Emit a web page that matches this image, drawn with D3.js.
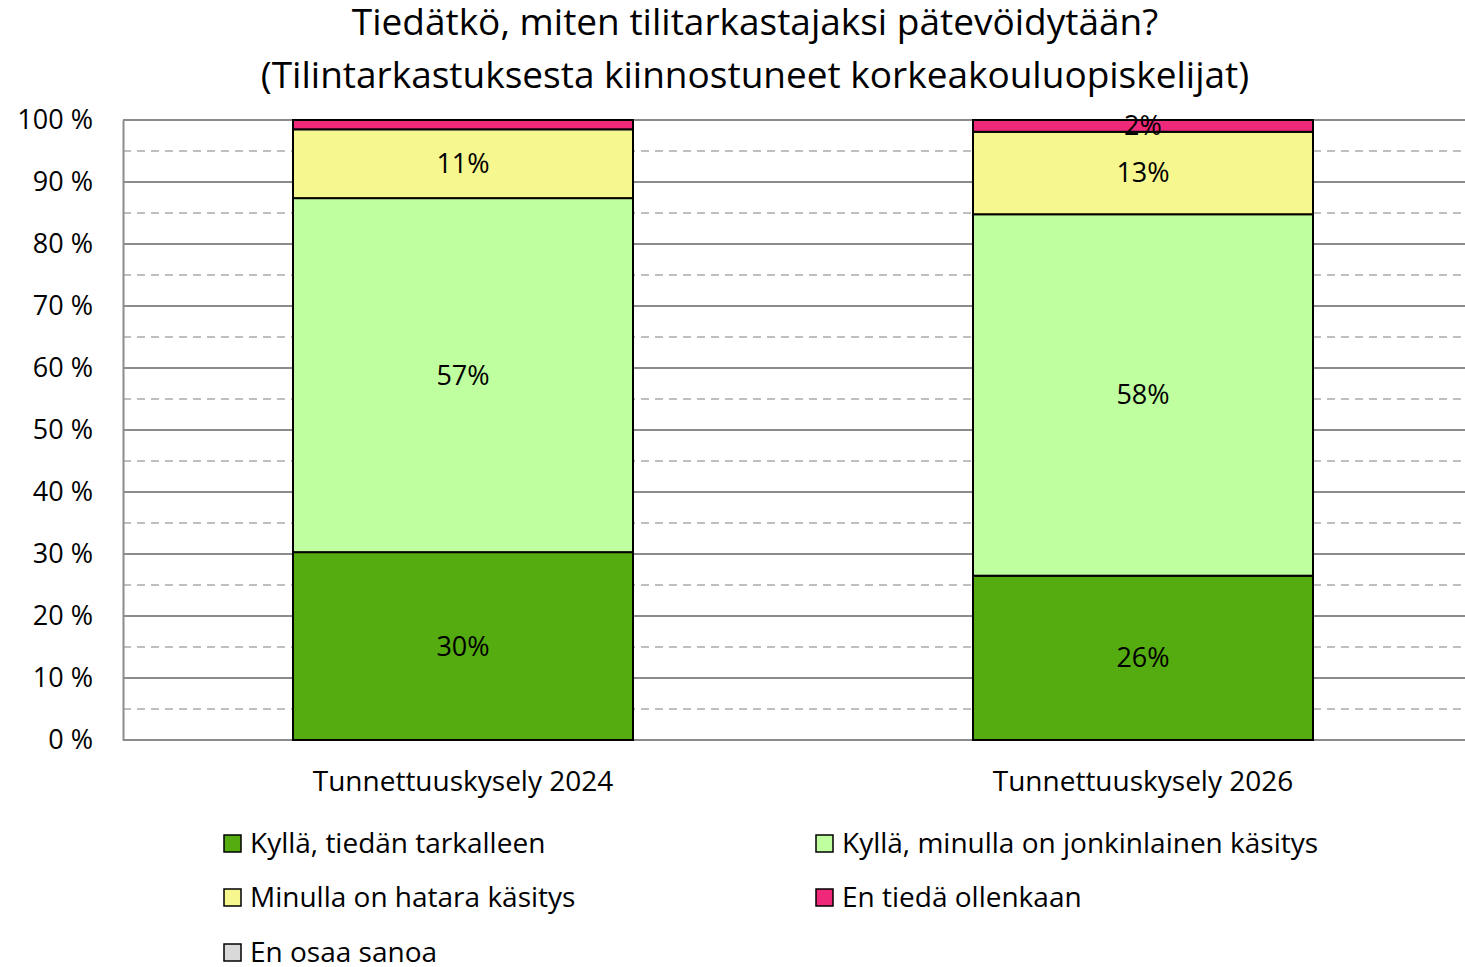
<!DOCTYPE html>
<html>
<head>
<meta charset="utf-8">
<script src="https://d3js.org/d3.v7.min.js"></script>
<style>
  body { margin: 0; background: #fff; }
  text { font-family: "Open Sans", "Noto Sans", sans-serif; fill: #000; }
</style>
</head>
<body>
<div id="chart"></div>
<script>
// data
var categories = ["Tunnettuuskysely 2024", "Tunnettuuskysely 2026"];
var seriesNames = ["Kyllä, tiedän tarkalleen", "Kyllä, minulla on jonkinlainen käsitys",
                   "Minulla on hatara käsitys", "En tiedä ollenkaan", "En osaa sanoa"];
var seriesColors = ["#55AC10", "#BFFF9F", "#F6F78F", "#F0287A", "#D9D9D9"];
var values2024 = [30.3, 57.1, 11.1, 1.5, 0];
var values2026 = [26.5, 58.3, 13.3, 1.9, 0];
var labels2024 = ["30%", "57%", "11%", "", ""];
var labels2026 = ["26%", "58%", "13%", "2%", ""];
var yTicks = [0, 10, 20, 30, 40, 50, 60, 70, 80, 90, 100];
var yMinor = [5, 15, 25, 35, 45, 55, 65, 75, 85, 95];

var width = 1465, height = 967;
var plotLeft = 123, plotTop = 120, plotH = 620;

var svg = d3.select("#chart").append("svg")
    .attr("width", width).attr("height", height);

// title
svg.append("text").attr("x", 755).attr("y", 35).attr("text-anchor", "middle")
    .style("font-size", "37px").text("Tiedätkö, miten tilitarkastajaksi pätevöidytään?");
svg.append("text").attr("x", 755).attr("y", 88).attr("text-anchor", "middle")
    .style("font-size", "37px").text("(Tilintarkastuksesta kiinnostuneet korkeakouluopiskelijat)");

var x = d3.scaleBand().domain(categories).range([plotLeft, plotLeft + 1360]).paddingInner(0.5).paddingOuter(0.25);
var y = d3.scaleLinear().domain([0, 100]).range([plotTop + plotH, plotTop]);

// gridlines
svg.append("g").selectAll("line").data(yMinor).enter().append("line")
    .attr("x1", plotLeft).attr("x2", width).attr("y1", d => y(d)).attr("y2", d => y(d))
    .attr("stroke", "#BFBFBF").attr("stroke-width", 2).attr("stroke-dasharray", "8,6");
svg.append("g").selectAll("line").data(yTicks).enter().append("line")
    .attr("x1", plotLeft).attr("x2", width).attr("y1", d => y(d)).attr("y2", d => y(d))
    .attr("stroke", "#8C8C8C").attr("stroke-width", 2);

// y axis
var yAxis = svg.append("g").attr("transform", "translate(" + plotLeft + ",0)")
    .call(d3.axisLeft(y).tickValues(yTicks).tickSize(0).tickPadding(30).tickFormat(d => d + " %"));
yAxis.select(".domain").attr("stroke", "#8C8C8C").attr("stroke-width", 2);
yAxis.selectAll("text").style("font-size", "27px").style("font-family", "'Open Sans', sans-serif");

// bars
var table = [values2024, values2026];
var labels = [labels2024, labels2026];
var stacked = categories.map(function(c, ci) {
  var acc = 0;
  return table[ci].map(function(v, si) {
    var seg = { cat: c, s: si, y0: acc, y1: acc + v, label: labels[ci][si] };
    acc += v;
    return seg;
  });
});
var segs = stacked.flat().filter(d => d.y1 > d.y0);

svg.append("g").selectAll("rect").data(segs).enter().append("rect")
    .attr("x", d => x(d.cat)).attr("width", x.bandwidth())
    .attr("y", d => y(d.y1)).attr("height", d => y(d.y0) - y(d.y1))
    .attr("fill", d => seriesColors[d.s]).attr("stroke", "#000").attr("stroke-width", 2);

svg.append("g").selectAll("text").data(segs.filter(d => d.label)).enter().append("text")
    .attr("x", d => x(d.cat) + x.bandwidth() / 2).attr("y", d => y((d.y0 + d.y1) / 2))
    .attr("dy", "0.35em").attr("text-anchor", "middle").style("font-size", "27px")
    .text(d => d.label);

// category labels
svg.append("g").selectAll("text").data(categories).enter().append("text")
    .attr("x", d => x(d) + x.bandwidth() / 2).attr("y", 791).attr("text-anchor", "middle")
    .style("font-size", "28px").text(d => d);

// legend
var legendPos = [[223, 843], [815, 843], [223, 897], [815, 897], [223, 952]];
var lg = svg.append("g").selectAll("g").data(seriesNames).enter().append("g")
    .attr("transform", (d, i) => "translate(" + legendPos[i][0] + "," + legendPos[i][1] + ")");
lg.append("rect").attr("x", 1).attr("y", -8).attr("width", 17).attr("height", 17)
    .attr("fill", (d, i) => seriesColors[i]).attr("stroke", "#000").attr("stroke-width", 1.5);
lg.append("text").attr("x", 27).attr("dy", "0.35em").style("font-size", "28px").text(d => d);
</script>
</body>
</html>
